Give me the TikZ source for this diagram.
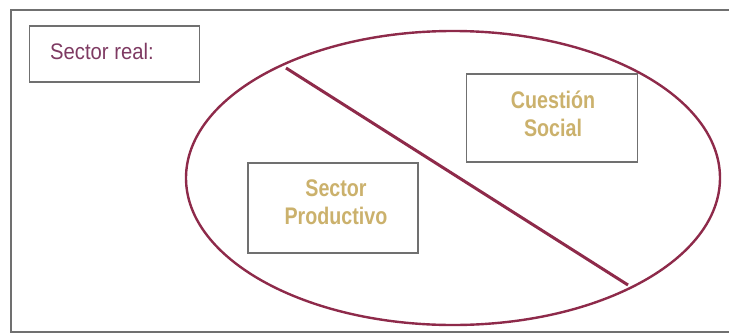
\documentclass[tikz,border=0pt]{standalone}
\usepackage{fontspec}
\usetikzlibrary{shapes.geometric}
\setmainfont{Liberation Sans}
\newfontfamily\narrowfont[FakeStretch=0.9]{Liberation Sans}
\newfontfamily\boldnarrow[FakeStretch=0.82]{Liberation Sans Bold}
\definecolor{maroon}{HTML}{8E2A4A}
\definecolor{plum}{HTML}{7E3A62}
\definecolor{tan}{HTML}{CBB16C}
\definecolor{frame}{HTML}{707070}
\begin{document}
\begin{tikzpicture}[x=1pt,y=-1pt,
  box/.style={draw=frame,line width=1.2pt,inner sep=0pt},
  lbl/.style={text=tan,font=\boldnarrow\fontsize{24}{28}\selectfont,align=center,inner sep=0pt}]
\useasboundingbox (0,0) rectangle (729,335);
\clip (0,0) rectangle (729,335);
\draw[frame,line width=1.2pt] (11,10) rectangle (740,332);
\node[box,minimum width=170pt,minimum height=56pt] (real) at (114.5,54) {};
\node[text=plum,font=\narrowfont\fontsize{22.5}{26}\selectfont,anchor=base west,inner sep=0pt] (reallbl) at (50,59) {Sector real:};
\node[draw=maroon,line width=2.4pt,ellipse,minimum width=534pt,minimum height=294pt,inner sep=0pt] (ell) at (453,178) {};
\coordinate (a) at (286,68);
\coordinate (b) at (628,285);
\draw[maroon,line width=3pt] (a) -- (b);
\node[box,minimum width=170pt,minimum height=90pt] (prod) at (333,208) {};
\node[lbl] (prodlbl) at (336,202.3) {Sector\\Productivo};
\node[box,minimum width=171pt,minimum height=88pt] (cues) at (552,118) {};
\node[lbl] (cueslbl) at (553,114) {Cuestión\\Social};
\end{tikzpicture}
\end{document}
